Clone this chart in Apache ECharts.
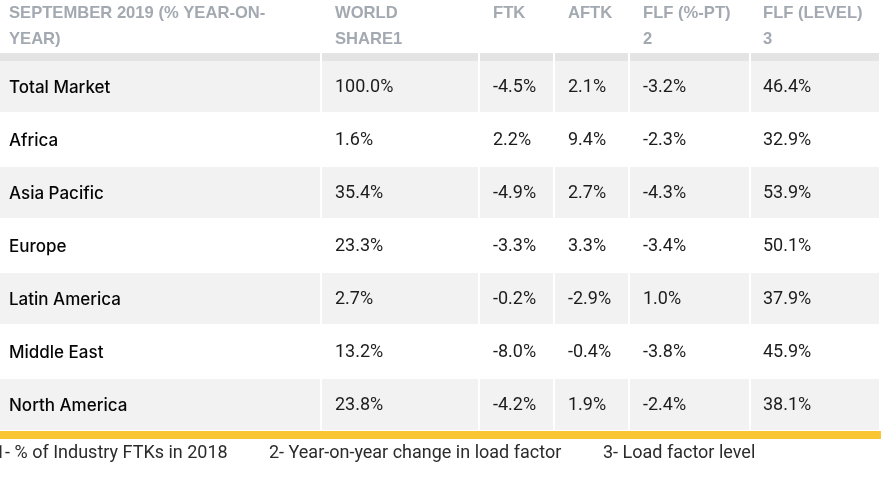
<!DOCTYPE html>
<html>
<head>
<meta charset="utf-8">
<script src="https://cdn.jsdelivr.net/npm/echarts@6/dist/echarts.min.js"></script>
<style>
  html, body { margin: 0; padding: 0; background: #fff; }
  #main { width: 894px; height: 478px; }
</style>
</head>
<body>
<div id="main"></div>
<script>
// table data
var regions = ['Total Market', 'Africa', 'Asia Pacific', 'Europe', 'Latin America', 'Middle East', 'North America'];
var worldShare = [100.0, 1.6, 35.4, 23.3, 2.7, 13.2, 23.8];
var ftk = [-4.5, 2.2, -4.9, -3.3, -0.2, -8.0, -4.2];
var aftk = [2.1, 9.4, 2.7, 3.3, -2.9, -0.4, 1.9];
var flfPt = [-3.2, -2.3, -4.3, -3.4, 1.0, -3.8, -2.4];
var flfLevel = [46.4, 32.9, 53.9, 50.1, 37.9, 45.9, 38.1];
var headers = ['SEPTEMBER 2019 (% YEAR-ON-\nYEAR)', 'WORLD\nSHARE1', 'FTK', 'AFTK', 'FLF (%-PT)\n2', 'FLF (LEVEL)\n3'];
var footnotes = ['1- % of Industry FTKs in 2018', '2- Year-on-year change in load factor', '3- Load factor level'];

// layout (pixels)
var colEdges = [0, 322, 480, 555, 630, 751, 881];
var pad = [9, 13, 13, 13, 13, 12];
var rowH = 53;
var tableTop = 61;

var myChart = echarts.init(document.getElementById('main'));

var columns = [worldShare, ftk, aftk, flfPt, flfLevel];
var cells = [];
regions.forEach(function (name, r) {
  cells.push([0, r, name]);
  columns.forEach(function (arr, c) {
    cells.push([c + 1, r, arr[r].toFixed(1) + '%']);
  });
});

function renderCell(params, api) {
  var col = api.value(0);
  var row = api.value(1);
  var x0 = colEdges[col];
  var w = colEdges[col + 1] - x0 - 2;
  var p = api.coord([x0, row]);
  var band = api.size([0, 1])[1];
  var top = p[1] - band / 2;
  var isLabel = col === 0;
  return {
    type: 'group',
    children: [
      {
        type: 'rect',
        shape: { x: p[0], y: top, width: w, height: band - 2 },
        style: { fill: row % 2 === 0 ? '#f2f2f2' : '#ffffff' }
      },
      {
        type: 'text',
        x: p[0] + pad[col],
        y: top + (band - 2) / 2 + 1,
        style: {
          text: cells[params.dataIndex][2],
          fill: isLabel ? '#050505' : '#1c1c1c',
          font: isLabel ? '500 17px Inter, sans-serif' : '18px Roboto, sans-serif',
          textVerticalAlign: 'middle',
          textAlign: 'left'
        }
      }
    ]
  };
}

var graphics = [];
headers.forEach(function (h, i) {
  graphics.push({
    type: 'rect',
    shape: { x: colEdges[i], y: 53, width: colEdges[i + 1] - colEdges[i] - 2, height: 8 },
    style: { fill: '#e4e4e4' }
  });
  graphics.push({
    type: 'text',
    x: colEdges[i] + pad[i],
    y: 0,
    style: {
      text: h,
      fill: '#a3a9b1',
      font: 'bold 16.6px "Liberation Sans", Arial, sans-serif',
      lineHeight: 26
    }
  });
});
graphics.push({
  type: 'rect',
  shape: { x: 0, y: 431, width: 881, height: 8 },
  style: { fill: '#f9c532' }
});
var footX = [-5, 269, 603];
footnotes.forEach(function (t, i) {
  graphics.push({
    type: 'text',
    x: footX[i],
    y: 453,
    style: {
      text: t,
      fill: '#2b2b2b',
      font: '18px Roboto, sans-serif',
      textVerticalAlign: 'middle'
    }
  });
});

var option = {
  animation: false,
  grid: { left: 0, top: tableTop, width: 881, height: rowH * regions.length },
  xAxis: { type: 'value', min: 0, max: 881, show: false },
  yAxis: { type: 'category', data: regions, inverse: true, show: false },
  series: [{
    type: 'custom',
    renderItem: renderCell,
    data: cells,
    encode: { x: 0, y: 1 }
  }],
  graphic: graphics
};
myChart.setOption(option);
</script>
</body>
</html>
